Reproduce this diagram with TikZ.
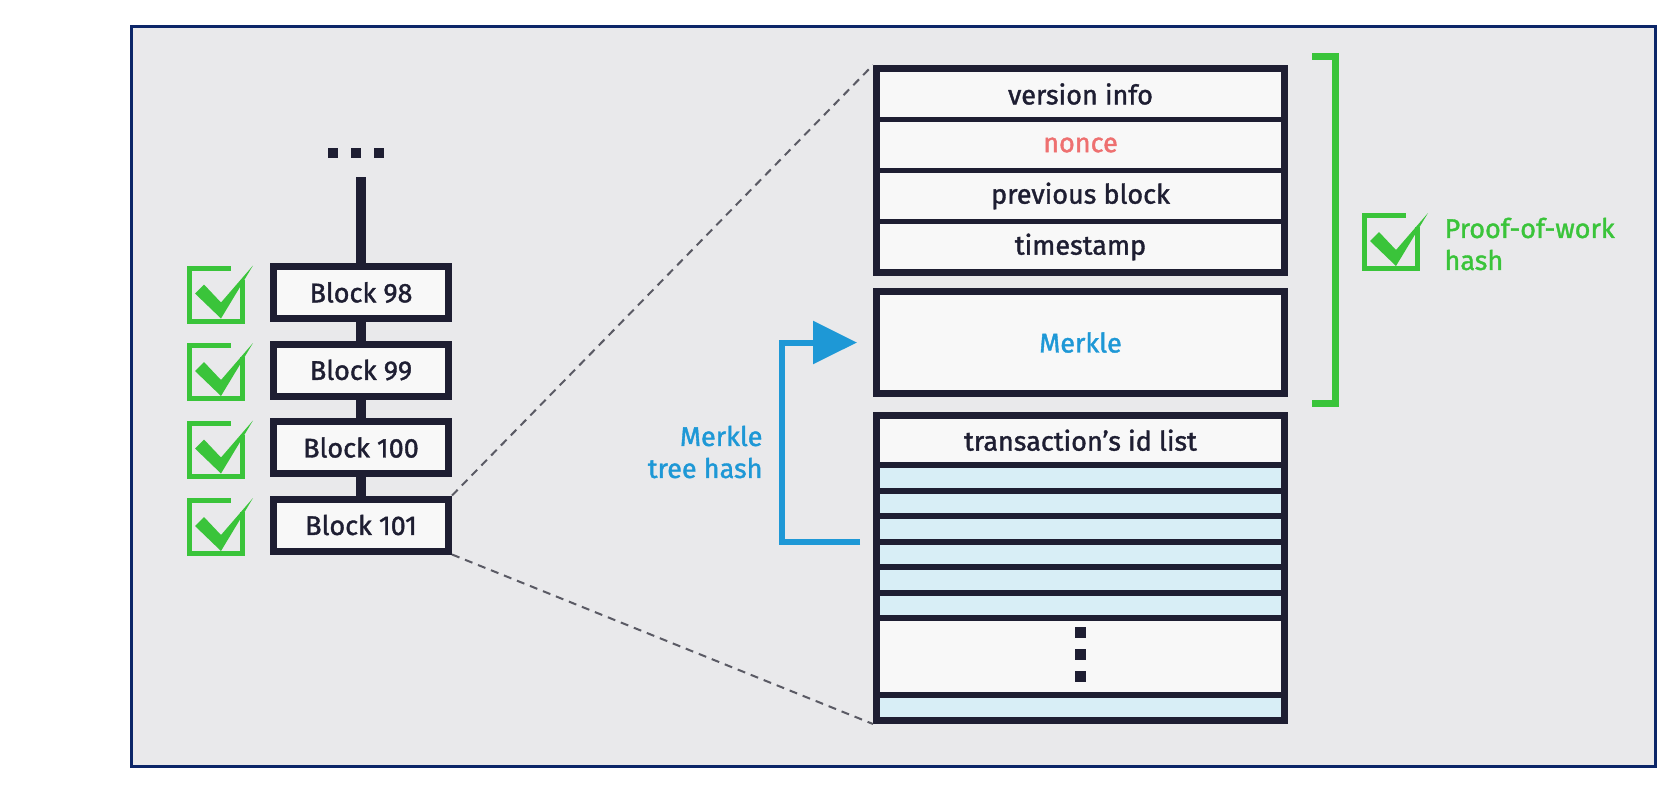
\documentclass[tikz,border=0pt]{standalone}
\usepackage{fontspec}
\setmainfont{Fira Sans}[FakeBold=1.4]
\usetikzlibrary{arrows.meta,calc}
\definecolor{ink}{RGB}{30,30,50}
\definecolor{bg}{RGB}{233,233,235}
\definecolor{framecol}{RGB}{12,38,104}
\definecolor{okgreen}{RGB}{58,196,58}
\definecolor{mblue}{RGB}{30,152,214}
\definecolor{nred}{RGB}{238,112,112}
\definecolor{rowblue}{RGB}{216,238,246}
\definecolor{boxwhite}{RGB}{248,248,248}
\definecolor{dashgray}{RGB}{90,90,100}
\begin{document}
\begin{tikzpicture}[x=1pt,y=-1pt,
  txt/.style={font=\fontsize{27}{32}\selectfont},
  blockbox/.style={draw=ink, line width=7pt, fill=boxwhite, minimum width=175pt, minimum height=52pt, inner sep=0pt, text=ink, txt},
  chain/.style={draw=ink, line width=10pt},
  hrow/.style={draw=ink, line width=5pt, fill=boxwhite, minimum width=408pt, minimum height=51pt, inner sep=0pt, outer sep=0pt, text=ink, txt},
  trow/.style={draw=ink, line width=6pt, fill=rowblue, minimum width=408pt, minimum height=25.5pt, inner sep=0pt, outer sep=0pt},
  outerbox/.style={draw=ink, line width=7pt, line join=miter},
  dashline/.style={draw=dashgray, line width=2pt, dash pattern=on 8pt off 6pt},
  marrow/.style={draw=mblue, line width=6pt, line join=miter, -{Triangle[length=44pt,width=42pt]}},
  chk/.pic={
    \draw[okgreen, line width=5pt] (55.5,14) -- (55.5,55.5) -- (2.5,55.5) -- (2.5,2.5) -- (44,2.5);
    \fill[okgreen] (8,28) -- (17,19) -- (34,37) -- (66,0) -- (34,53) -- cycle;
  }
]
\useasboundingbox (0,0) rectangle (1676,796);
\fill[white] (0,0) rectangle (1676,796);
\draw[framecol, line width=3pt, fill=bg] (131.5,26.5) rectangle (1655.5,766.5);

% chain of blocks
\foreach \d in {333,356,379} \fill[ink] (\d-5,148) rectangle (\d+5,158);
\coordinate (chaintop) at (361,177);
\node[blockbox] (b98) at (361,292.5) {Block 98};
\node[blockbox] (b99) at (361,370) {Block 99};
\node[blockbox] (b100) at (361,447.5) {Block 100};
\node[blockbox] (b101) at (361,525) {Block 101};
\draw[chain] (chaintop) -- (b98.north);
\draw[chain] (b98.south) -- (b99.north);
\draw[chain] (b99.south) -- (b100.north);
\draw[chain] (b100.south) -- (b101.north);
\foreach \b in {b98,b99,b100,b101} \pic at ($(\b.center)+(-174,-27)$) {chk};

% header stack
\node[hrow] (ver) at (1080.5,94) {version info};
\node[hrow, text=nred] (nonce) at (1080.5,145) {nonce};
\node[hrow] (prev) at (1080.5,196) {previous block};
\node[hrow] (ts) at (1080.5,247) {timestamp};
\draw[outerbox] (ver.north west) rectangle (ts.south east);

\node[hrow, line width=7pt, minimum height=102pt, text=mblue] (merkle) at (1080.5,342.5) {Merkle};

% transactions
\node[hrow, line width=6pt, minimum height=49.5pt] (txhead) at (1080.5,440.25) {transaction’s id list};
\node[trow] (tx1) at (1080.5,477.75) {};
\node[trow] (tx2) at (1080.5,503.25) {};
\node[trow] (tx3) at (1080.5,528.75) {};
\node[trow] (tx4) at (1080.5,554.25) {};
\node[trow] (tx5) at (1080.5,579.75) {};
\node[trow] (tx6) at (1080.5,605.25) {};
\node[trow, fill=boxwhite, minimum height=77pt] (txdots) at (1080.5,656.5) {};
\node[trow] (txlast) at (1080.5,707.75) {};
\draw[outerbox] (txhead.north west) rectangle (txlast.south east);
\foreach \dy in {-24,-2,20} \fill[ink] ($(txdots.center)+(-5.5,\dy-5.5)$) rectangle ++(11,11);

% dashed zoom lines
\draw[dashline] (b101.north east) -- ($(ver.north west)+(-3.5,-3.5)$);
\draw[dashline] (b101.south east) -- ($(txlast.south west)+(-3.5,3.5)$);

% merkle tree hash arrow
\draw[marrow] ([xshift=-16.5pt]tx4.north west) -- ++(-78,0) |- ([xshift=-19.5pt]merkle.west);
\node[txt, text=mblue, align=right, anchor=east] (mth) at (766,452) {Merkle\\tree hash};

% proof of work bracket
\draw[okgreen, line width=7pt, line join=miter] (1312,56.5) -- (1335,56.5) -- (1335,403.5) -- (1312,403.5);
\pic at (1362,213) {chk};
\node[txt, text=okgreen, align=left, anchor=west] (pow) at (1441,244) {Proof-of-work\\hash};
\end{tikzpicture}
\end{document}
